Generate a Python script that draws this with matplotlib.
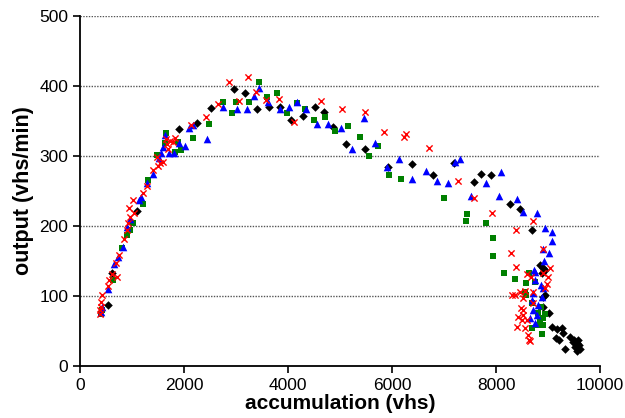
import numpy as np
import matplotlib
matplotlib.use("Agg")
import matplotlib.pyplot as plt

plt.rcParams["font.family"] = ["Liberation Sans", "DejaVu Sans"]

# ── data (accumulation vhs, output vhs/min) ─────────────────────────────────
black_x = [530, 620, 1100, 1900, 2250, 2520, 2960, 3170, 3400, 3635, 3846, 4055,
           4290, 4520, 4690, 4870, 5110, 5480, 5920, 6390, 6780, 7200, 7570, 7710,
           7900, 8270, 8460, 8690, 8850, 8900, 8950, 8880, 8940, 8900, 8900, 9020,
           9080, 9170, 9270, 9290, 9150, 9210, 9330, 9420, 9490, 9550, 9520, 9580,
           9600, 9560, 9620, 9500]
black_y = [87, 133, 221, 338, 347, 369, 396, 390, 367, 370, 370, 351,
           357, 370, 363, 341, 317, 310, 284, 289, 273, 290, 263, 275,
           273, 231, 224, 194, 145, 140, 137, 133, 101, 99, 85, 76,
           56, 53, 54, 48, 40, 37, 24, 41, 34, 33, 27, 37,
           30, 22, 25, 38]

blue_x = [400, 420, 540, 650, 730, 820, 900, 960, 1140, 1170, 1290, 1400, 1520,
          1550, 1600, 1630, 1710, 1810, 1900, 2020, 2100, 2170, 2440, 2750, 3010,
          3220, 3350, 3440, 3620, 3850, 4010, 4170, 4350, 4560, 4770, 5020, 5230,
          5460, 5670, 5900, 6130, 6380, 6650, 6860, 7070, 7220, 7310, 7520, 7800,
          8060, 8100, 8410, 8520, 8780, 8940, 9070, 9070, 9020, 8920, 8900, 8750,
          8730, 8750, 8870, 8900, 8880, 8690, 8710, 8790, 8650, 8750, 8720, 8800]
blue_y = [77, 85, 110, 146, 156, 170, 199, 210, 237, 241, 261, 275, 297,
          304, 313, 330, 304, 304, 319, 314, 340, 344, 324, 370, 367,
          367, 386, 397, 377, 367, 370, 377, 367, 346, 346, 340, 310,
          354, 319, 284, 296, 267, 279, 264, 261, 291, 296, 243, 261,
          243, 277, 238, 220, 219, 197, 191, 179, 161, 150, 167, 134,
          137, 123, 116, 111, 99, 94, 80, 73, 69, 61, 105, 88]

green_x = [400, 430, 640, 800, 900, 960, 1010, 1210, 1310, 1480, 1630, 1650, 1830,
           1890, 1940, 2180, 2490, 2750, 2920, 3000, 3250, 3450, 3590, 3780, 3980,
           4170, 4330, 4500, 4710, 4900, 5150, 5380, 5560, 5730, 5940, 6170, 7000,
           7440, 7420, 7800, 7940, 7940, 8150, 8370, 8580, 8630, 8750, 8560, 8580,
           8690, 8810, 8850, 8900, 8810, 8690, 8880, 8900, 8950, 8860]
green_y = [75, 80, 123, 169, 187, 194, 204, 231, 266, 301, 318, 333, 306,
           320, 309, 325, 346, 377, 362, 377, 377, 405, 384, 390, 361,
           376, 367, 351, 356, 336, 343, 327, 300, 314, 273, 267, 240,
           217, 207, 205, 183, 157, 133, 125, 119, 133, 120, 106, 101,
           90, 76, 66, 69, 59, 54, 46, 59, 75, 85]

red_x = [385, 390, 395, 400, 425, 540, 560, 610, 710, 690, 750, 850, 910, 920,
         950, 970, 1020, 1040, 1210, 1290, 1410, 1500, 1540, 1590, 1480, 1650,
         1680, 1730, 1790, 1830, 1700, 2130, 2420, 2650, 2860, 3060, 3230, 3380,
         3570, 3820, 4110, 4630, 5040, 5480, 5850, 6230, 6270, 6710, 7270, 7580,
         7930, 8380, 8290, 8710, 8900, 8380, 8600, 8670, 8900, 9040, 9000, 8980,
         8940, 8560, 8460, 8310, 8370, 8520, 8710, 8480, 8520, 8420, 8500, 8400,
         8560, 8600, 8620, 8630, 8520, 8710, 8650]
red_y = [75, 80, 85, 91, 101, 114, 123, 131, 127, 147, 159, 181, 194, 204,
         226, 213, 237, 218, 247, 257, 280, 286, 290, 292, 299, 324,
         317, 322, 320, 325, 310, 344, 356, 374, 406, 379, 413, 391,
         380, 381, 349, 379, 367, 363, 334, 327, 331, 311, 264, 240,
         219, 194, 161, 207, 167, 141, 131, 127, 133, 140, 127, 118,
         111, 108, 106, 101, 101, 97, 106, 83, 80, 70, 66, 56,
         54, 66, 44, 37, 73, 90, 36]

# ── plot ───────────────────────────────────────────────────────────────────
fig = plt.figure(figsize=(6.25, 4.18), dpi=100)
ax = fig.add_axes([0.128, 0.124, 0.832, 0.838])

ax.scatter(black_x, black_y, marker="D", s=19, color="black", lw=0, zorder=3)
ax.scatter(green_x, green_y, marker="s", s=24, color="#008000", lw=0, zorder=3)
ax.scatter(blue_x, blue_y, marker="^", s=30, color="#0000ff", lw=0, zorder=3)
ax.scatter(red_x, red_y, marker="x", s=20, color="#ff0000", lw=1, zorder=4)

ax.set_xlim(0, 10000)
ax.set_ylim(0, 500)
ax.set_xticks(np.arange(0, 10001, 2000))
ax.set_yticks(np.arange(0, 501, 100))
for y in range(100, 501, 100):
    ax.axhline(y, color="#555555", lw=1, ls=(0, (1, 1)), zorder=1)

ax.tick_params(direction="out", length=5, width=1.2, labelsize=12.5, colors="black")
ax.spines["top"].set_visible(False)
ax.spines["right"].set_visible(False)
ax.spines["left"].set_linewidth(1.3)
ax.spines["bottom"].set_linewidth(1.3)

ax.set_xlabel("accumulation (vhs)", fontsize=15, fontweight="bold", labelpad=1)
ax.set_ylabel("output (vhs/min)", fontsize=15.5, fontweight="bold", labelpad=4)

fig.savefig("out.png", dpi=100)
